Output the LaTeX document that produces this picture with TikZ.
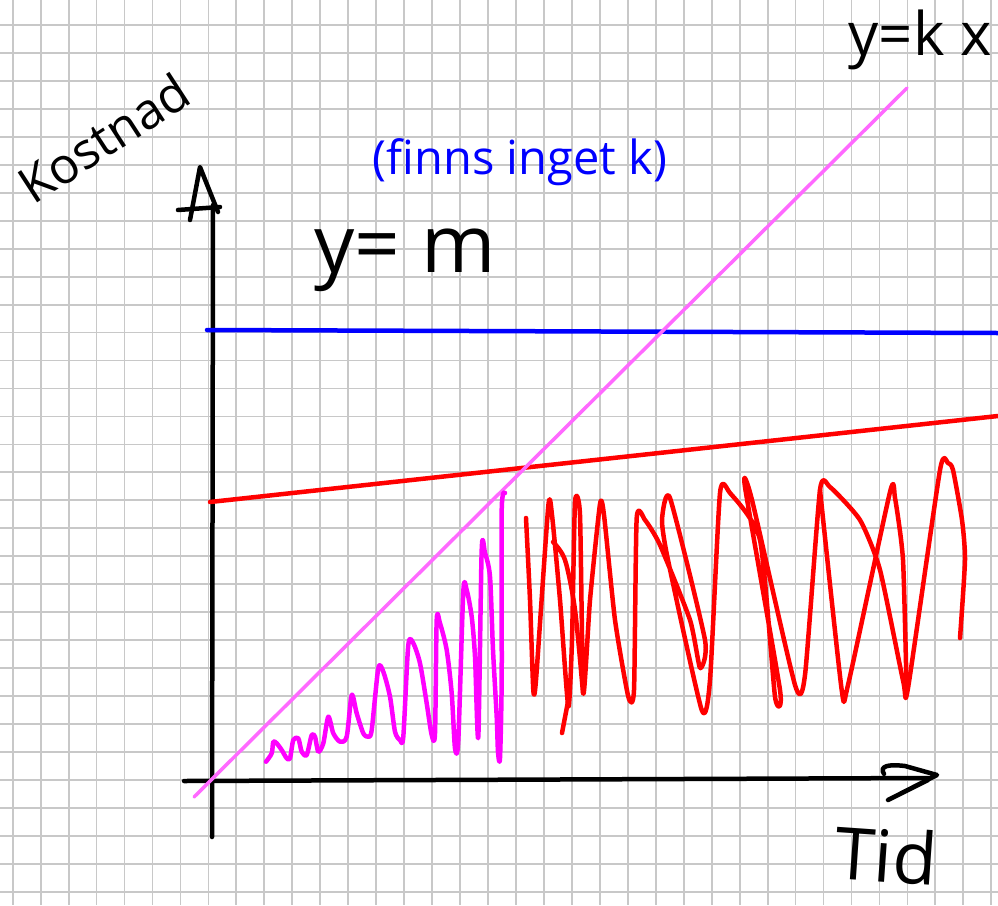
\documentclass[tikz,border=0pt]{standalone}
\usepackage{fontspec}
\setmainfont{Open Sans}
\definecolor{gridgray}{RGB}{200,200,200}
\definecolor{pinkline}{RGB}{255,105,255}
\definecolor{magentasq}{RGB}{255,0,255}
\definecolor{redline}{RGB}{255,0,0}
\definecolor{blueline}{RGB}{0,0,255}
\tikzset{
  gridline/.style={draw=gridgray, line width=1.8pt},
  axisline/.style={draw=black, line width=4.5pt, line cap=round, line join=round},
  penline/.style={line width=4.5pt, line cap=round, line join=round},
  hand/.style={inner sep=0pt, text=black}
}
\begin{document}
\begin{tikzpicture}[x=1pt,y=-1pt]
\useasboundingbox (0,0) rectangle (998,905);
\fill[white] (0,0) rectangle (998,905);
% grid
\foreach \i in {0,...,35} \draw[gridline] ({12.7+\i*27.96},0) -- ({12.7+\i*27.96},905);
\foreach \j in {0,...,31} \draw[gridline] (0,{25+\j*27.96}) -- (998,{25+\j*27.96});
% axes
\coordinate (ybot) at (212,837);
\coordinate (ytop) at (213,205);
\coordinate (xleft) at (184,781);
\coordinate (xright) at (930,778);
\draw[axisline] (ybot) -- (ytop);
\draw[axisline] (xleft) -- (xright);
% handwritten arrow heads
\draw[axisline] (190,220) -- (200,167) -- (218,212);
\draw[axisline] (178,210) -- (220,207);
\draw[axisline] (884,774) .. controls (879,766) and (888,764) .. (905,766) -- (937,775) -- (888,800) -- (928,780);
% lines
\coordinate (r1) at (210,502);
\coordinate (r2) at (998,416);
\coordinate (b1) at (207,330);
\coordinate (b2) at (998,333);
\coordinate (p1) at (194,797);
\coordinate (p2) at (907,88);
\draw[penline, draw=redline] (r1) -- (r2);
\draw[penline, draw=blueline] (b1) -- (b2);
\draw[penline, draw=pinkline, line width=3.5pt] (p1) -- (p2);
% magenta squiggle
\draw[penline, draw=magentasq] plot[smooth, tension=0.45] coordinates {
(266,761.7) (271.7,753.3) (273.3,741.7) (276.7,743.3) (281.7,750) (286.7,758.3) (290,758.3)
(293.3,740) (298.3,738.3) (301.7,751.7) (306.7,755) (311.7,735) (315,736.7) (318.3,751.7)
(323.3,743.3) (328.3,716.7) (333.3,733.3) (340,741.7) (346.7,736.7) (351.7,695) (356.7,713.3)
(363.3,733.3) (368.3,736.7) (371.7,730) (378.3,668.3) (383.3,671.7) (390,696.7) (395,731.7)
(400,740) (403.3,736.7) (408.3,645) (413.3,643.3) (420,663.3) (426.7,703.3) (431.7,735)
(435,733.3) (436.7,620) (440,623.3) (446.7,650) (451.7,693.3) (455,748.3) (458.3,740)
(463.3,591.7) (466.7,590) (471.7,616.7) (475,656.7) (478.3,736.7) (481.7,550) (485,553)
(490,576.7) (493,650) (496.7,716.7) (498,752) (500,758) (501.7,676.7) (501.7,510) (505,493)};
% red scribble
\draw[penline, draw=redline] plot[smooth, tension=0.35] coordinates {
(526,518) (530,600) (533.3,690) (536,680) (548.3,506) (552,515) (560,600) (568.3,706.7)
(572,640) (575,502) (580,515) (583.3,693.3) (590,600) (600,504) (604,515) (615,620) (628.3,696.7)
(634,690) (636.7,518) (645,520) (660,545) (690,620) (700,668) (705,640) (670,498) (662,520)
(668,560) (701.7,710) (710,680) (720,493) (730,493) (760,540) (775,696.7) (780,690)
(745,487) (752,500) (795,685) (805,675) (820,490) (830,487) (860,520) (880,570)
(903.3,681.7) (908,688) (940,470) (948,463) (953,470) (962,520) (965,560) (960,638)};
\draw[penline, draw=redline] plot[smooth, tension=0.35] coordinates {
(820,490) (841.7,690) (848,685) (890,492) (895,498) (903,560) (906.7,693.3)};
\draw[penline, draw=redline] (568.3,700) -- (562,733);
\draw[penline, draw=redline] plot[smooth, tension=0.5] coordinates {(553,542) (565,560) (575,610) (583,693)};
% labels
\node[hand, rotate=33, font=\fontsize{50}{54}\selectfont] (kostnad) at (104,138) {Kostnad};
\node[hand, font=\fontsize{80}{84}\selectfont] (ym) at (405,260) {y= m};
\node[hand, text=blueline, font=\fontsize{47}{52}\selectfont] (finns) at (520,162) {(finns inget k)};
\node[hand, font=\fontsize{60}{64}\selectfont] (ykx) at (920,40) {y=k x};
\node[hand, rotate=-4, font=\fontsize{72}{76}\selectfont] (tid) at (886,855) {Tid};
\end{tikzpicture}
\end{document}
